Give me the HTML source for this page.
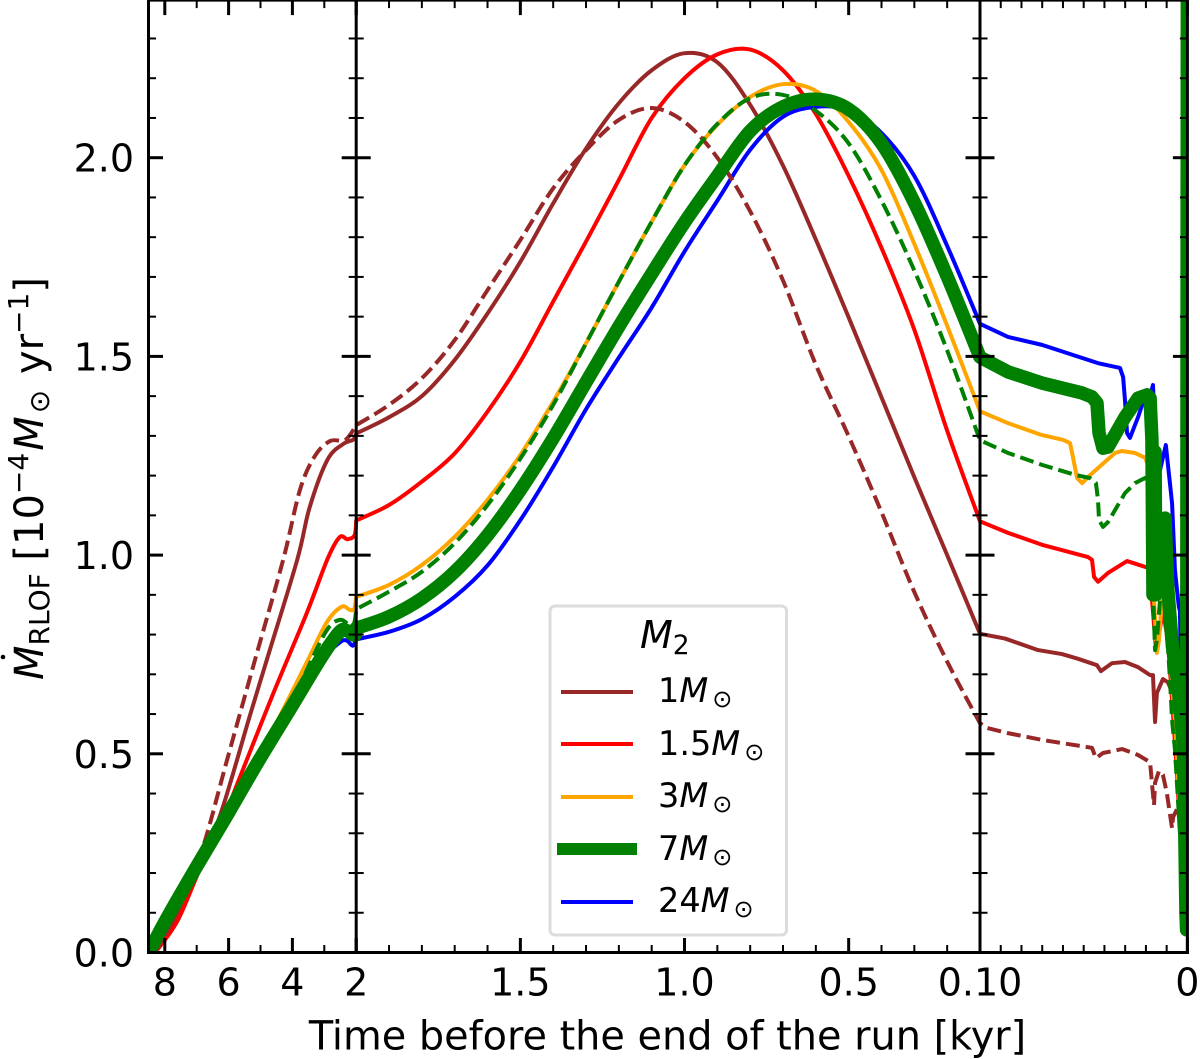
<!DOCTYPE html>
<html lang="en">
<head>
<meta charset="utf-8">
<title>Mass transfer rate chart</title>
<style>
html,body{margin:0;padding:0;background:#fff;width:1200px;height:1059px;overflow:hidden}
svg{display:block}
text{font-family:"DejaVu Sans","Liberation Sans",sans-serif;fill:#000}
</style>
</head>
<body>
<svg id="chart" xmlns="http://www.w3.org/2000/svg" width="1200" height="1059" viewBox="0 0 1200 1059">
  <defs><clipPath id="plot-clip"><rect x="148.5" y="0" width="1038.9" height="952.5"/></clipPath></defs>
  <g id="series-layer" clip-path="url(#plot-clip)"></g>
  <g id="axis-layer"></g>

  <text x="667.5" y="1049.5" text-anchor="middle" font-size="39.8">Time before the end of the run [kyr]</text>

  <circle cx="3" cy="657" r="2.3" fill="#000"/>
  <text transform="translate(43,680) rotate(-90)" font-size="40"><tspan font-style="italic">M</tspan><tspan font-size="28" dy="6">RLOF</tspan><tspan dy="-6"> [10</tspan><tspan font-size="28" dy="-15">−4</tspan><tspan font-style="italic" dy="15" dx="2">M</tspan><tspan font-size="28" dy="6" dx="3">⊙</tspan><tspan dy="-6" dx="3"> yr</tspan><tspan font-size="28" dy="-15">−1</tspan><tspan dy="15">]</tspan></text>

  <g>
    <rect x="550" y="606" width="236.5" height="329" rx="5" ry="5" fill="#fff" fill-opacity="0.8" stroke="#dcdcdc" stroke-width="3"/>
    <text x="640" y="648" font-size="38"><tspan font-style="italic">M</tspan><tspan font-size="26.5" dy="6">2</tspan></text>

    <line x1="561" x2="633" y1="692" y2="692" stroke="#982828" stroke-width="4"/>
    <text x="658" y="702" font-size="33.5">1<tspan font-style="italic">M</tspan><tspan font-size="24" dy="5" dx="4">⊙</tspan></text>

    <line x1="561" x2="633" y1="744" y2="744" stroke="#ff0000" stroke-width="4"/>
    <text x="658" y="755" font-size="33.5">1.5<tspan font-style="italic">M</tspan><tspan font-size="24" dy="5" dx="4">⊙</tspan></text>

    <line x1="561" x2="633" y1="797" y2="797" stroke="#ffa500" stroke-width="4"/>
    <text x="658" y="807" font-size="33.5">3<tspan font-style="italic">M</tspan><tspan font-size="24" dy="5" dx="4">⊙</tspan></text>

    <line x1="557" x2="637" y1="849" y2="849" stroke="#008000" stroke-width="12"/>
    <text x="658" y="860" font-size="33.5">7<tspan font-style="italic">M</tspan><tspan font-size="24" dy="5" dx="4">⊙</tspan></text>

    <line x1="561" x2="633" y1="902" y2="902" stroke="#0000ff" stroke-width="4"/>
    <text x="658" y="912" font-size="33.5">24<tspan font-style="italic">M</tspan><tspan font-size="24" dy="5" dx="4">⊙</tspan></text>
  </g>
</svg>
<script>
/* ---- data: time before end of run [kyr] and Mdot [1e-4 Msun/yr] ---- */
const timeBrown = [8.3,8,7.5,7,6.32,5.34,4.8,3.85,3.46,2.9,2.4,2.1,2,
  1.9,1.8,1.7,1.6,1.5,1.4,1.3,1.2,1.1,1,.9,.8,.7,.6,.5,.4,.3,.2,.1,
  .0879,.072,.0605,.0527,.0436,.0417,.0364,.0301,.0238,.018,.0166,.0156,.0147,.0118,.0094,.0074,.0055,.0036,.0012];
const mdotBrown = [0,.04,.12,.235,.333,.594,.737,.988,1.12,1.24,1.28,1.29,1.306,
  1.347,1.4,1.491,1.608,1.738,1.885,2.023,2.137,2.22,2.263,2.24,2.133,1.98,1.794,1.598,1.397,1.196,1,.802,
  .79,.761,.751,.739,.723,.708,.728,.731,.718,.698,.698,.58,.653,.688,.68,.655,.585,.4,.08];

const timeRed = [8.3,7.6,6.9,6.18,5.65,4.62,3.55,2.9,2.52,2.27,2.05,2,
  1.9,1.8,1.7,1.6,1.5,1.4,1.3,1.2,1.1,1,.9,.8,.7,.6,.5,.4,.3,.2,.1,
  .0865,.0701,.0479,.046,.045,.0431,.0383,.0291,.019,.018,.0171,.0151,.0142,.0118,.0094,.0074,.005,.0012];
const mdotRed = [0,.08,.21,.333,.44,.648,.854,.99,1.045,1.04,1.05,1.087,
  1.126,1.185,1.256,1.361,1.487,1.638,1.789,1.944,2.1,2.2,2.26,2.272,2.22,2.11,1.954,1.773,1.567,1.313,1.085,
  1.056,1.026,.995,.988,.945,.933,.955,.985,.968,.95,.89,.76,.785,.86,.785,.635,.45,.08];

const timeOrange = [8.5,8,7.07,6,5.12,4.8,3.55,2.93,2.46,2.2,2.06,2,
  1.9,1.8,1.7,1.6,1.5,1.4,1.3,1.2,1.1,1,.9,.8,.7,.6,.5,.4,.3,.2,.1,
  .0865,.0701,.06,.0566,.0552,.0532,.0508,.047,.0349,.0315,.0253,.0204,.018,.0171,.0151,.0147,.0137,.0118,.0099,.0084,.0069,.006,.0036,.0012];
const mdotOrange = [0,.077,.207,.352,.48,.53,.73,.83,.87,.862,.865,.895,
  .925,.975,1.046,1.139,1.252,1.386,1.533,1.688,1.839,1.981,2.083,2.153,2.185,2.168,2.09,1.969,1.783,1.577,1.362,
  1.332,1.302,1.29,1.282,1.247,1.194,1.181,1.201,1.257,1.262,1.257,1.245,1.214,.988,.786,.754,.786,.925,.887,.761,.635,.585,.35,.08];

const timeBlue = [8.5,8,7.07,6,5.12,4,3.08,2.52,2.3,2.11,2,
  1.9,1.8,1.7,1.6,1.5,1.4,1.3,1.2,1.1,1,.9,.8,.7,.6,.5,.4,.3,.2,.1,
  .0865,.0701,.0431,.0325,.031,.0301,.0291,.0277,.0238,.0195,.018,.0166,.0156,.0132,.0104,.0074,.006,.005,.0041,.0036,.0012];
const mdotBlue = [0,.075,.205,.35,.472,.62,.735,.78,.785,.772,.788,
  .807,.839,.895,.974,1.088,1.222,1.367,1.497,1.623,1.764,1.892,2.02,2.103,2.128,2.12,2.062,1.954,1.778,1.582,
  1.549,1.529,1.483,1.471,1.448,1.39,1.307,1.295,1.347,1.415,1.4,1.428,1.3,1.214,1.277,1.131,.962,.912,.869,.86,.08];

const timeBrownDashed = [8.3,7.5,6.8,6.05,5.17,4.29,3.76,3.29,2.82,2.34,2,
  1.9,1.8,1.7,1.6,1.5,1.4,1.3,1.2,1.1,1,.9,.8,.7,.6,.5,.4,.3,.2,.1,
  .0966,.0865,.0701,.046,.0441,.0407,.0315,.0238,.018,.0171,.0161,.0156,.0137,.0118,.0099,.0074,.0069,.0045,.0026,.0012];
const mdotBrownDashed = [0,.12,.266,.484,.737,.988,1.165,1.25,1.287,1.29,1.327,
  1.378,1.445,1.541,1.667,1.793,1.923,2.019,2.095,2.125,2.09,2,1.865,1.691,1.479,1.299,1.108,.907,.732,.577,
  .565,.552,.535,.515,.489,.502,.512,.497,.479,.427,.371,.427,.457,.447,.401,.313,.341,.366,.258,.08];

const timeGreenDashed = [8.5,8,7.07,6,5.12,4,3.55,2.93,2.52,2.2,2.06,2,
  1.9,1.8,1.7,1.6,1.5,1.4,1.3,1.2,1.1,1,.9,.8,.7,.6,.5,.4,.3,.2,.1,
  .0865,.0701,.0542,.047,.0441,.0431,.0426,.0407,.0383,.0301,.0253,.0204,.018,.0171,.0156,.0147,.0132,.0108,.0084,.0074,.006,.0036,.0012];
const mdotGreenDashed = [0,.077,.207,.352,.476,.625,.71,.81,.837,.824,.83,.864,
  .908,.958,1.03,1.126,1.243,1.378,1.533,1.688,1.839,1.981,2.085,2.15,2.158,2.118,2.036,1.892,1.716,1.515,1.289,
  1.257,1.227,1.202,1.194,1.181,1.139,1.088,1.071,1.083,1.156,1.181,1.194,1.15,.988,.761,.786,.887,.887,.686,.585,.51,.3,.08];

const timeGreen = [8.5,8,7.07,6,5.12,4,3.08,2.52,2.3,2.11,2.03,2,
  1.9,1.8,1.7,1.6,1.5,1.4,1.3,1.2,1.1,1,.9,.8,.7,.6,.5,.4,.3,.2,.1,
  .0865,.0701,.0508,.046,.0436,.0426,.0407,.0383,.0301,.0238,.0195,.018,.0171,.0166,.0156,.0152,.0142,.0108,.0094,.0072,.0048,.0033,.0019,.0014,.0007,.0004,0];
const mdotGreen = [0,.077,.207,.352,.474,.622,.744,.807,.81,.8,.8,.816,
  .845,.891,.958,1.05,1.164,1.294,1.435,1.575,1.708,1.837,1.954,2.067,2.128,2.147,2.122,2.036,1.887,1.701,1.498,
  1.461,1.433,1.408,1.398,1.383,1.307,1.269,1.272,1.347,1.395,1.403,1.395,1.29,.9,1.26,.9,.93,1.093,.912,.769,.686,.603,.517,.351,.1,.057,2.6];

const panel1MajorTicks = [8,6,4,2];
const panel1MinorTicks = [7,5,3];
const panel2MajorTicks = [2,1.5,1,.5,.1];
const panel2MinorTicks = [1.9,1.8,1.7,1.6,1.4,1.3,1.2,1.1,.9,.8,.7,.6,.4,.3,.2];
const panel3MajorTicks = [.1,0];
const panel3MinorTicks = [.09,.08,.07,.06,.05,.04,.03,.02,.01];
const xTickValues = [8,6,4,2,1.5,1,.5,.1,0];
const xTickLabels = ["8","6","4","2","1.5","1.0","0.5","0.10","0"];
const yMajorTicks = [0,.5,1,1.5,2];
const yMinorTicks = [.1,.2,.3,.4,.6,.7,.8,.9,1.1,1.2,1.3,1.4,1.6,1.7,1.8,1.9,2.1,2.2,2.3];
const yTickLabels = ["0.0","0.5","1.0","1.5","2.0"];

/* ---- axis functions ---- */
const SVGNS = "http://www.w3.org/2000/svg";
const xLeft = 148.5, xB1 = 356.2, xB2 = 980, xRight = 1187.4, yBottom = 952.5, yTop = 0.6;
function xScale(t){
  if (t >= 2) return xB1 - (t - 2) * 31.9;
  if (t >= .1) return xB1 + (2 - t) * (xB2 - xB1) / 1.9;
  return xRight - t * (xRight - xB2) / .1;
}
function yScale(v){ return yBottom - v * 397.4; }
function panelOf(t){ return t > 2 ? 0 : (t > .1 ? 1 : 2); }

const seriesLayer = document.getElementById("series-layer");
const axisLayer = document.getElementById("axis-layer");

/* smooth (Catmull-Rom) in the two long panels, straight in the detailed third panel */
function buildPath(times, values){
  const n = times.length;
  const px = times.map(xScale);
  const py = values.map(yScale);
  const segPanel = [];
  for (let i = 0; i < n - 1; i++) segPanel.push(panelOf((times[i] + times[i + 1]) / 2));
  let d = "M" + px[0].toFixed(2) + " " + py[0].toFixed(2);
  for (let i = 0; i < n - 1; i++){
    if (segPanel[i] === 2){
      d += "L" + px[i + 1].toFixed(2) + " " + py[i + 1].toFixed(2);
      continue;
    }
    const a = (i > 0 && segPanel[i - 1] === segPanel[i]) ? i - 1 : i;
    const b = (i < n - 2 && segPanel[i + 1] === segPanel[i]) ? i + 2 : i + 1;
    const c1x = px[i] + (px[i + 1] - px[a]) / 6;
    const c1y = py[i] + (py[i + 1] - py[a]) / 6;
    const c2x = px[i + 1] - (px[b] - px[i]) / 6;
    const c2y = py[i + 1] - (py[b] - py[i]) / 6;
    d += "C" + c1x.toFixed(2) + " " + c1y.toFixed(2) + " " + c2x.toFixed(2) + " " + c2y.toFixed(2) + " " + px[i + 1].toFixed(2) + " " + py[i + 1].toFixed(2);
  }
  return d;
}

function drawSeries(times, values, color, width, dash, name){
  const p = document.createElementNS(SVGNS, "path");
  p.setAttribute("d", buildPath(times, values));
  p.setAttribute("fill", "none");
  p.setAttribute("stroke", color);
  p.setAttribute("stroke-width", width);
  p.setAttribute("stroke-linejoin", "round");
  p.setAttribute("stroke-linecap", dash ? "butt" : "round");
  if (dash) p.setAttribute("stroke-dasharray", dash);
  
  
  seriesLayer.appendChild(p);
}
drawSeries(timeBrown, mdotBrown, "#982828", 4, null, "line-1msun");
drawSeries(timeRed, mdotRed, "#ff0000", 4, null, "line-1-5msun");
drawSeries(timeOrange, mdotOrange, "#ffa500", 4, null, "line-3msun");
drawSeries(timeBlue, mdotBlue, "#0000ff", 4, null, "line-24msun");
drawSeries(timeBrownDashed, mdotBrownDashed, "#982828", 4, "14 6", "dashed-line-1msun");
drawSeries(timeGreenDashed, mdotGreenDashed, "#008000", 4, "14 6", "dashed-line-7msun");
drawSeries(timeGreen, mdotGreen, "#008000", 13.5, null, "line-7msun");

function axisLine(x1, y1, x2, y2, width, name){
  const l = document.createElementNS(SVGNS, "line");
  l.setAttribute("x1", x1);
  l.setAttribute("y1", y1);
  l.setAttribute("x2", x2);
  l.setAttribute("y2", y2);
  l.setAttribute("stroke", "#000");
  l.setAttribute("stroke-width", width);
  
  
  axisLayer.appendChild(l);
}
const verticalEdges = [xLeft, xB1, xB2, xRight];
verticalEdges.forEach(function(x){ axisLine(x, 0, x, yBottom + 1.5, 3, "panel-spine"); });
axisLine(xLeft - 1.5, yBottom, xRight + 1.5, yBottom, 3, "bottom-spine");
axisLine(xLeft - 1.5, yTop, xRight + 1.5, yTop, 2, "top-spine");

function xTick(t, len, width, name){
  const x = xScale(t);
  axisLine(x, yBottom, x, yBottom - len, width, name);
  axisLine(x, yTop, x, yTop + len, width, name + "-top");
}
panel1MajorTicks.concat(panel2MajorTicks, panel3MajorTicks).forEach(function(t){ xTick(t, 14.5, 3, "x-major-tick"); });
panel1MinorTicks.concat(panel2MinorTicks, panel3MinorTicks).forEach(function(t){ xTick(t, 7.5, 2, "x-minor-tick"); });

function yTick(v, len, width, name){
  const y = yScale(v);
  axisLine(xLeft, y, xLeft + len, y, width, name);
  axisLine(xB1 - len, y, xB1 + len, y, width, name);
  axisLine(xB2 - len, y, xB2 + len, y, width, name);
  axisLine(xRight - len, y, xRight, y, width, name);
}
yMajorTicks.forEach(function(v){ yTick(v, 14.5, 3, "y-major-tick"); });
yMinorTicks.forEach(function(v){ yTick(v, 7.5, 2, "y-minor-tick"); });

xTickValues.forEach(function(t, i){
  const el = document.createElementNS(SVGNS, "text");
  el.setAttribute("x", xScale(t));
  el.setAttribute("y", 995.5);
  el.setAttribute("text-anchor", "middle");
  el.setAttribute("font-size", "38");
  el.textContent = xTickLabels[i];
  
  
  axisLayer.appendChild(el);
});
yMajorTicks.forEach(function(v, i){
  const el = document.createElementNS(SVGNS, "text");
  el.setAttribute("x", 134);
  el.setAttribute("y", yScale(v) + 14);
  el.setAttribute("text-anchor", "end");
  el.setAttribute("font-size", "38");
  el.textContent = yTickLabels[i];
  
  
  axisLayer.appendChild(el);
});
</script>
</body>
</html>
